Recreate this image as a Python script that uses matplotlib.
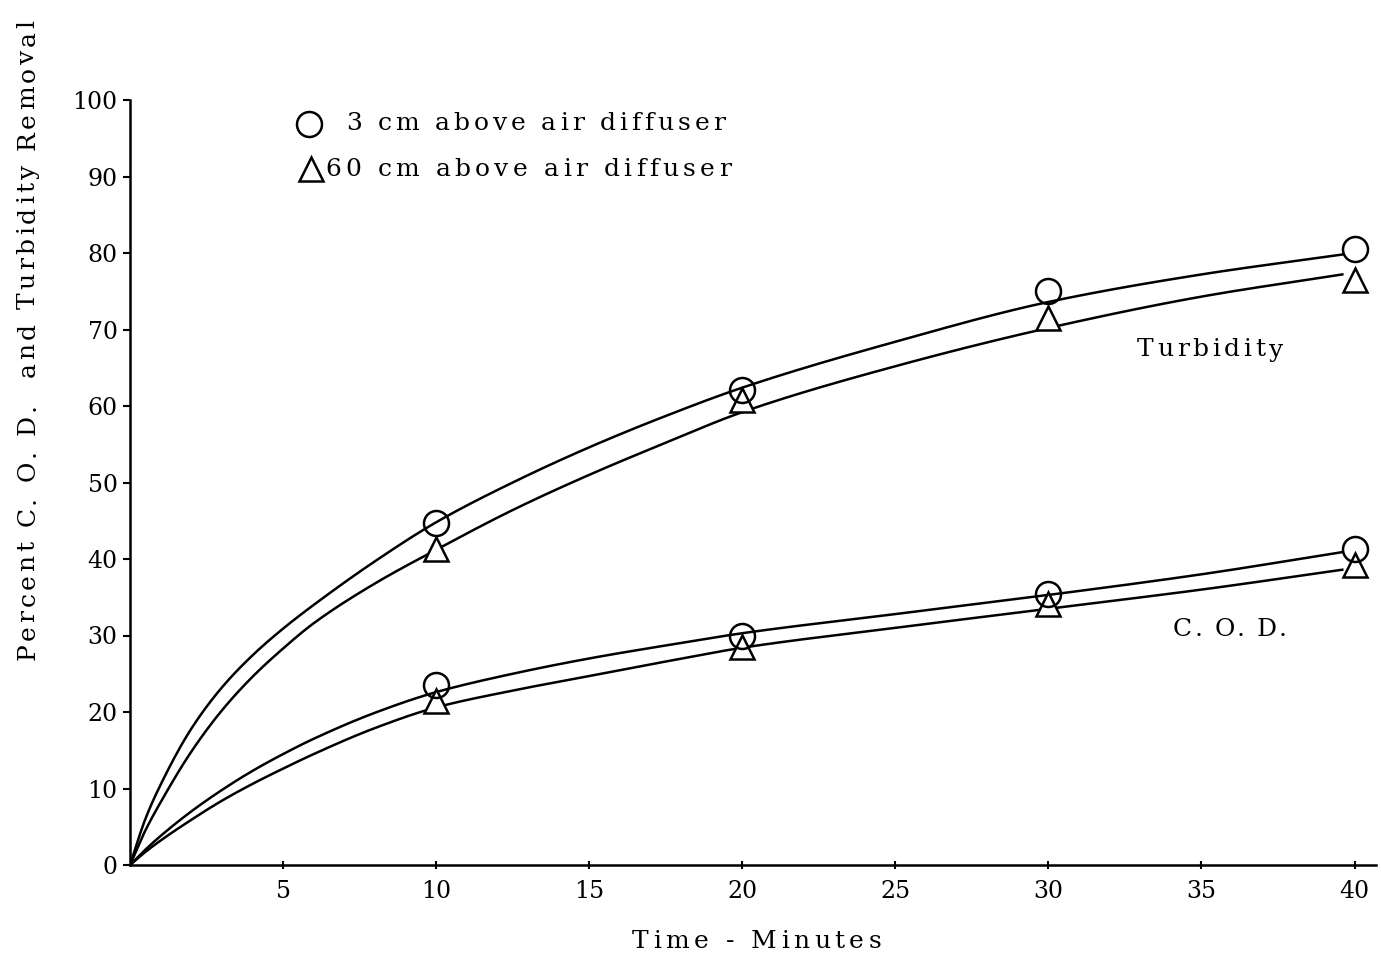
import numpy as np
import matplotlib
matplotlib.use("Agg")
from matplotlib import pyplot as plt
from matplotlib.font_manager import FontProperties, findfont, get_font

# titik data (waktu dalam menit, persen penyisihan)
t_obs = [10, 20, 30, 40]
turb_3cm = [44.7, 62.1, 75.0, 80.5]
turb_60cm = [41.3, 60.8, 71.5, 76.5]
cod_3cm = [23.5, 30.0, 35.4, 41.3]
cod_60cm = [21.4, 28.5, 34.1, 39.2]

# garis kurva
t_curve = [0, 0.5, 1, 2, 3, 4, 5, 6, 8, 10, 12.5, 15, 17.5, 20, 25, 30, 35, 39.6]
turb_3cm_curve = [0, 6.0, 10.5, 17.8, 23.2, 27.4, 30.9, 34.0, 39.7, 44.8, 50.0,
                  54.6, 58.7, 62.4, 68.4, 73.6, 77.2, 79.8]
turb_60cm_curve = [0, 4.5, 8.2, 14.8, 20.2, 24.6, 28.3, 31.6, 36.8, 41.2, 46.4,
                   51.0, 55.2, 59.2, 65.2, 70.2, 74.3, 77.2]
cod_3cm_curve = [0, 2.0, 3.8, 7.0, 9.8, 12.3, 14.5, 16.5, 19.9, 22.6, 25.0,
                 27.0, 28.7, 30.3, 32.8, 35.3, 38.0, 40.9]
cod_60cm_curve = [0, 1.7, 3.2, 5.9, 8.4, 10.6, 12.6, 14.5, 17.9, 20.6, 22.8,
                  24.7, 26.6, 28.4, 31.0, 33.5, 36.0, 38.6]

xticks = [5, 10, 15, 20, 25, 30, 35, 40]
yticks = [0, 10, 20, 30, 40, 50, 60, 70, 80, 90, 100]


def pchip(x, y, n=600):
    # interpolasi kubik monoton, biar garis halus
    x = np.asarray(x, float)
    y = np.asarray(y, float)
    h = np.diff(x)
    d = np.diff(y) / h
    m = np.zeros_like(y)
    m[0], m[-1] = d[0], d[-1]
    for k in range(1, len(x)-1):
        if d[k-1]*d[k] > 0:
            w1 = 2*h[k] + h[k-1]
            w2 = h[k] + 2*h[k-1]
            m[k] = (w1 + w2) / (w1/d[k-1] + w2/d[k])
    xs = np.linspace(x[0], x[-1], n)
    k = np.clip(np.searchsorted(x, xs) - 1, 0, len(x)-2)
    s = (xs - x[k]) / h[k]
    ys = ((2*s**3 - 3*s**2 + 1)*y[k] + (s**3 - 2*s**2 + s)*h[k]*m[k]
          + (-2*s**3 + 3*s**2)*y[k+1] + (s**3 - s**2)*h[k]*m[k+1])
    return xs, ys


FS = 18
fp = FontProperties(family='DejaVu Serif', size=FS)
ftf = get_font(findfont(fp))
ftf.set_size(FS, 72)


def spaced(fig, x0, y0, s, length, rot=0):
    # tulis huruf satu per satu, meniru ketikan yang renggang
    W, H = fig.get_size_inches() * fig.dpi
    ws = [ftf.load_char(ord(ch)).linearHoriAdvance / 65536 * fig.dpi / 72
          for ch in s]
    track = (length - sum(ws)) / (len(s) - 1)
    pos = 0.0
    for ch, w in zip(s, ws):
        if rot == 0:
            fig.text((x0 + pos)/W, 1 - y0/H, ch, fontproperties=fp,
                     ha='left', va='center')
        else:
            fig.text(x0/W, 1 - (y0 - pos)/H, ch, fontproperties=fp,
                     rotation=90, ha='center', va='bottom')
        pos += w + track


plt.rcParams['font.family'] = 'DejaVu Serif'
fig = plt.figure(figsize=(13.81, 9.57), dpi=100)
ax = fig.add_axes([130/1381, 1-865/957, 1246/1381, 765/957])

for yc in (turb_3cm_curve, turb_60cm_curve, cod_3cm_curve, cod_60cm_curve):
    xs, ys = pchip(t_curve, yc)
    ax.plot(xs, ys, color='black', lw=1.8)

mk = dict(color='black', mew=1.8, ls='none', clip_on=False)
ax.plot(t_obs, turb_60cm, marker='^', ms=17, mfc='white', **mk)
ax.plot(t_obs, cod_60cm, marker='^', ms=17, mfc='white', **mk)
ax.plot(t_obs, turb_3cm, marker='o', ms=18, mfc='none', **mk)
ax.plot(t_obs, cod_3cm, marker='o', ms=18, mfc='none', **mk)

ax.set_xlim(0, 40.7)
ax.set_ylim(0, 100)
ax.spines['top'].set_visible(False)
ax.spines['right'].set_visible(False)
ax.spines['left'].set_linewidth(1.8)
ax.spines['bottom'].set_linewidth(1.8)
ax.set_xticks(xticks)
ax.set_yticks(yticks)
ax.tick_params(axis='x', direction='inout', length=6, width=1.5, labelsize=17, pad=8)
ax.tick_params(axis='y', direction='out', length=5, width=1.5, labelsize=17, pad=4)

# legenda manual
fig.lines.append(plt.Line2D([309/1381], [1-124/957], transform=fig.transFigure,
                            marker='o', ms=18, mfc='none', color='black', mew=1.8))
fig.lines.append(plt.Line2D([311/1381], [1-169/957], transform=fig.transFigure,
                            marker='^', ms=17, mfc='white', color='black', mew=1.8))
spaced(fig, 346, 124, '3 cm above air diffuser', 379)
spaced(fig, 325, 169, '60 cm above air diffuser', 406)

spaced(fig, 1137, 350, 'Turbidity', 146)
spaced(fig, 1173, 630, 'C. O. D.', 114)
spaced(fig, 632, 942, 'Time - Minutes', 249)
spaced(fig, 28, 660, 'Percent C. O. D.  and Turbidity Removal', 640, rot=90)

plt.savefig('out.png', dpi=100)
